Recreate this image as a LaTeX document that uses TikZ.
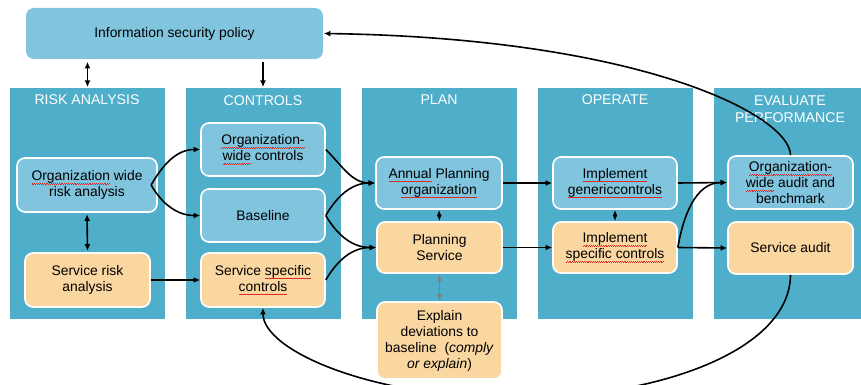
\documentclass[tikz,border=0pt]{standalone}
\usepackage{fontspec}
\setmainfont{Liberation Sans}
\usetikzlibrary{arrows.meta}
\definecolor{colbg}{RGB}{79,175,203}
\definecolor{lblue}{RGB}{128,196,222}
\definecolor{lorange}{RGB}{250,214,160}
\definecolor{arrgray}{RGB}{128,128,128}
\definecolor{squig}{RGB}{225,40,40}
\newcommand{\sq}[1]{\setbox0\hbox{#1}\rlap{\lower2.4pt\hbox to\wd0{\color{squig}\xleaders\hbox{\rule[-0.35pt]{0.7pt}{0.45pt}\rule[0.05pt]{0.7pt}{0.45pt}}\hfill}}\box0\relax}
\tikzset{
  colbox/.style={fill=colbg, draw=none, minimum width=116.25pt, minimum height=173.25pt, inner sep=0pt},
  coltitle/.style={text=white, font=\fontsize{10.6}{12.5}\selectfont, align=center, inner sep=0pt},
  bbox/.style={rounded corners=6pt, draw=white, line width=1.2pt, align=center,
    font=\fontsize{10.4}{12}\selectfont, text=black, inner sep=1pt},
  lbbox/.style={bbox, fill=lblue},
  orbox/.style={bbox, fill=lorange},
  arr/.style={line width=1.2pt, -{Latex[length=5pt,width=4.5pt]}},
  arrboth/.style={line width=1.2pt, {Latex[length=5pt,width=4.5pt]}-{Latex[length=5pt,width=4.5pt]}},
  dia/.style={line width=0.8pt, {Latex[length=4.5pt,width=3.5pt]}-{Latex[length=4.5pt,width=3.5pt]}},
}
\begin{document}
\begin{tikzpicture}[x=0.75pt,y=-0.75pt]
\useasboundingbox (0,0) rectangle (861,385);
% columns
\node[colbox] (riskcol) at (87.5,203.5) {};
\node[colbox] (ctrlcol) at (263,203.5) {};
\node[colbox] (plancol) at (439,203.5) {};
\node[colbox] (opcol) at (615,203.5) {};
\node[colbox] (evcol) at (791,203.5) {};
\node[coltitle] (t1) at (87,100) {RISK ANALYSIS};
\node[coltitle] (t2) at (263,101) {CONTROLS};
\node[coltitle] (t3) at (439,100) {PLAN};
\node[coltitle] (t4) at (615,100) {OPERATE};
\node[coltitle] (t5) at (790,109) {EVALUATE\\PERFORMANCE};
% policy
\node[bbox, draw=none, fill=lblue, minimum width=222.75pt, minimum height=38.25pt] (pol) at (174.5,33.5) {Information security policy};
% boxes
\node[lbbox, minimum width=105pt, minimum height=40.5pt] (ora) at (87,185) {\sq{Organization} wide\\risk analysis};
\node[orbox, minimum width=93.75pt, minimum height=40.5pt] (sra) at (87.5,280) {Service risk\\analysis};
\node[lbbox, minimum width=93pt, minimum height=39.75pt] (owc) at (263,149.5) {\sq{Organization-}\\\sq{wide} controls};
\node[lbbox, minimum width=93pt, minimum height=39.75pt] (base) at (263,215.5) {Baseline};
\node[orbox, minimum width=93pt, minimum height=40.5pt] (ssc) at (263,280) {Service \sq{specific}\\\sq{controls}};
\node[lbbox, minimum width=94.5pt, minimum height=39pt] (apo) at (439,183) {\sq{Annual} Planning\\\sq{organization}};
\node[orbox, minimum width=93.75pt, minimum height=38.25pt] (ps) at (439.5,247.5) {Planning\\Service};
\node[orbox, minimum width=93.75pt, minimum height=57.75pt] (exp) at (439.5,340.5) {Explain\\deviations to\\baseline~ (\textit{comply}\\\textit{or explain})};
\node[lbbox, minimum width=93pt, minimum height=39pt] (ig) at (615,183) {\sq{Implement}\\\sq{genericcontrols}};
\node[orbox, minimum width=93pt, minimum height=38.25pt] (is) at (615,247.5) {\sq{Implement}\\\sq{specific controls}};
\node[lbbox, minimum width=93.75pt, minimum height=39.75pt] (owa) at (790.5,182.5) {\sq{Organization-}\\\sq{wide} audit and\\benchmark};
\node[orbox, minimum width=93.75pt, minimum height=39pt] (sa) at (790.5,248) {Service audit};
\coordinate (low) at (515,398);
% connectors
\draw[arrboth, shorten <=1.5pt, shorten >=0.5pt] (pol.south -| riskcol.north) -- (riskcol.north);
\draw[arr, shorten <=1.5pt, shorten >=0.5pt] (pol.south -| ctrlcol.north) -- (ctrlcol.north);
\draw[arr] ([xshift=-5pt]ora.east) to[out=60,in=180] (owc.west);
\draw[arr] ([xshift=-5pt]ora.east) to[out=-60,in=180] (base.west);
\draw[arrboth, shorten <=1pt, shorten >=1pt] (ora.south) -- (sra.north);
\draw[arr] (sra.east) -- (ssc.west);
\draw[arr] (owc.east) to[out=-45,in=180] (apo.west);
\draw[arr] (base.east) to[out=60,in=180] (apo.west);
\draw[arr] (base.east) to[out=-60,in=180] (ps.west);
\draw[arr] (ssc.east) to[out=60,in=180] (ps.west);
\draw[dia] (apo.south) -- (ps.north);
\draw[line width=1.2pt, arrgray, {Latex[length=5pt,width=4.5pt]}-{Latex[length=5pt,width=4.5pt]}, shorten <=0.5pt, shorten >=0.5pt] (ps.south) -- (exp.north);
\draw[arr] (apo.east) -- (ig.west);
\draw[arr] (ps.east) -- (is.west);
\draw[dia] (ig.south) -- (is.north);
\draw[arr] (ig.east) -- (owa.west);
\draw[arr] (is.east) -- (sa.west);
\draw[arr] (is.east) to[out=80,in=180] (owa.west);
\draw[arr] (owa.north) .. controls (790,115) and (640,38) .. (pol.east);
\draw[arr] (sa.south) .. controls (790,350) and (660,398) .. (low) .. controls (370,398) and (263,350) .. (ssc.south);
\end{tikzpicture}
\end{document}
